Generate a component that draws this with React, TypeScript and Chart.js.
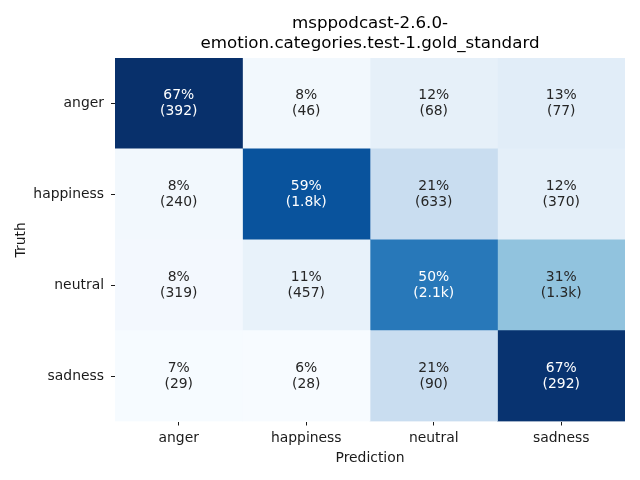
import React, { useEffect, useRef } from "react";
import { Chart, registerables } from "chart.js";

Chart.register(...registerables);

const truthLabels = ["anger", "happiness", "neutral", "sadness"];
const predictionLabels = ["anger", "happiness", "neutral", "sadness"];
const titleLines = ["msppodcast-2.6.0-", "emotion.categories.test-1.gold_standard"];
// row-normalised percentages (rows = truth, columns = prediction)
const percentRows = [
  [67.2, 7.9, 11.7, 13.2],
  [7.9, 59.2, 20.8, 12.2],
  [7.6, 10.9, 50.3, 31.1],
  [6.6, 6.4, 20.5, 66.5],
];
const countRows = [
  [392, 46, 68, 77],
  [240, 1800, 633, 370],
  [319, 457, 2100, 1300],
  [29, 28, 90, 292],
];

const BLUES = [
  [247, 251, 255],
  [222, 235, 247],
  [198, 219, 239],
  [158, 202, 225],
  [107, 174, 214],
  [66, 146, 198],
  [33, 113, 181],
  [8, 81, 156],
  [8, 48, 107],
];

function blues(t: number): number[] {
  const x = Math.max(0, Math.min(1, t)) * (BLUES.length - 1);
  const i = Math.min(BLUES.length - 2, Math.floor(x));
  const f = x - i;
  const a = BLUES[i];
  const b = BLUES[i + 1];
  return [0, 1, 2].map((k) => Math.round(a[k] + (b[k] - a[k]) * f));
}

function luminance(c: number[]): number {
  const lin = c.map((v) => {
    const s = v / 255;
    return s <= 0.03928 ? s / 12.92 : Math.pow((s + 0.055) / 1.055, 2.4);
  });
  return 0.2126 * lin[0] + 0.7152 * lin[1] + 0.0722 * lin[2];
}

function fmtCount(n: number): string {
  return n >= 1000 ? (n / 1000).toFixed(1) + "k" : String(n);
}

const allPct = percentRows.flat();
const vmin = Math.min(...allPct);
const vmax = Math.max(...allPct);
const cellColor = (r: number, c: number) =>
  blues((percentRows[r][c] - vmin) / (vmax - vmin));

const FONT = "'DejaVu Sans', sans-serif";
const TEXT = "#1a1a1a";

const annotPlugin = {
  id: "annot",
  afterDatasetsDraw(chart: any) {
    const ctx = chart.ctx;
    ctx.save();
    ctx.font = `13.9px ${FONT}`;
    ctx.textAlign = "center";
    ctx.textBaseline = "middle";
    chart.data.datasets.forEach((ds: any, c: number) => {
      const meta = chart.getDatasetMeta(c);
      meta.data.forEach((el: any, r: number) => {
        const p = el.getCenterPoint();
        const col = cellColor(r, c);
        ctx.fillStyle = luminance(col) > 0.408 ? "#262626" : "#ffffff";
        ctx.fillText(`${Math.round(percentRows[r][c])}%`, p.x, p.y - 8);
        ctx.fillText(`(${fmtCount(countRows[r][c])})`, p.x, p.y + 8);
      });
    });
    ctx.restore();
  },
};

export default function App() {
  const ref = useRef<HTMLCanvasElement>(null);
  useEffect(() => {
    if (!ref.current) return;
    const datasets = predictionLabels.map((name, c) => ({
      label: name,
      data: truthLabels.map(() => [c, c + 1]),
      backgroundColor: truthLabels.map((_, r) => {
        const k = cellColor(r, c);
        return `rgb(${k[0]},${k[1]},${k[2]})`;
      }),
      borderWidth: 0,
      borderSkipped: false,
      grouped: false,
      barPercentage: 1,
      categoryPercentage: 1,
    }));
    const chart = new Chart(ref.current, {
      type: "bar",
      data: { labels: truthLabels, datasets: datasets as any },
      options: {
        indexAxis: "y",
        animation: false,
        responsive: false,
        events: [],
        layout: { padding: { left: 0, right: 15, top: 0, bottom: 0 } },
        plugins: {
          legend: { display: false },
          tooltip: { enabled: false },
          title: {
            display: true,
            text: titleLines,
            fullSize: false,
            color: "#000000",
            font: { family: FONT, size: 16.7, weight: "normal", lineHeight: 1.2 },
            padding: { top: 14, bottom: 4 },
          },
        },
        scales: {
          x: {
            type: "linear",
            min: 0,
            max: 4,
            afterBuildTicks: (s: any) => {
              s.ticks = predictionLabels.map((_, i) => ({ value: i + 0.5 }));
            },
            afterFit: (s: any) => {
              s.height = 58.5;
            },
            ticks: {
              callback: (v: any) => predictionLabels[Math.floor(Number(v))],
              color: TEXT,
              font: { family: FONT, size: 13.9 },
              padding: 5,
              maxRotation: 0,
              autoSkip: false,
            },
            grid: {
              drawOnChartArea: false,
              drawTicks: true,
              tickLength: 4,
              color: TEXT,
              lineWidth: 1,
            },
            border: { display: false },
            title: {
              display: true,
              text: "Prediction",
              color: TEXT,
              font: { family: FONT, size: 13.9 },
              padding: { top: 0, bottom: 13 },
            },
          },
          y: {
            type: "category",
            afterFit: (s: any) => {
              s.width = 115;
            },
            ticks: {
              color: TEXT,
              font: { family: FONT, size: 13.9 },
              padding: 7,
              autoSkip: false,
            },
            grid: {
              offset: false,
              drawOnChartArea: false,
              drawTicks: true,
              tickLength: 4,
              color: TEXT,
              lineWidth: 1,
            },
            border: { display: false },
            title: {
              display: true,
              text: "Truth",
              color: TEXT,
              font: { family: FONT, size: 13.9 },
              padding: { top: 13.5, bottom: 0 },
            },
          },
        },
      },
      plugins: [annotPlugin],
    });
    return () => chart.destroy();
  }, []);
  return (
    <div style={{ position: "fixed", left: 0, top: 0, width: 640, height: 480, background: "#fff" }}>
      <canvas ref={ref} width={640} height={480} />
    </div>
  );
}
